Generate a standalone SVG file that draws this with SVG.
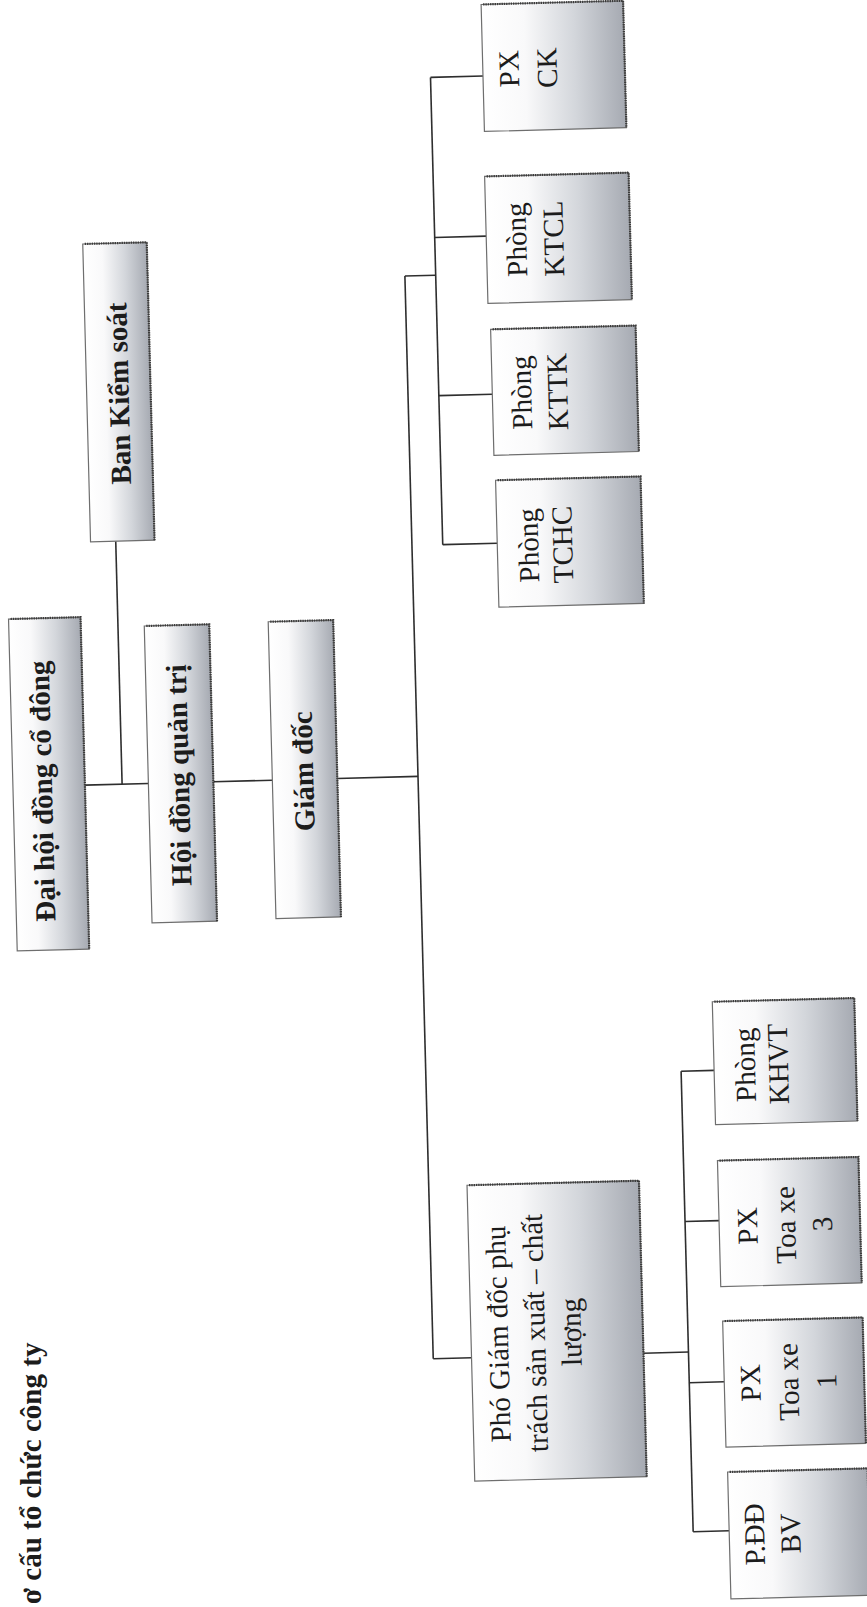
<svg xmlns="http://www.w3.org/2000/svg" width="867" height="1607" viewBox="0 0 867 1607">
<defs>
<linearGradient id="fillG" x1="0" y1="0" x2="1" y2="0">
<stop offset="0" stop-color="#ffffff"/>
<stop offset="0.3" stop-color="#f9f9fa"/>
<stop offset="0.65" stop-color="#d3d6db"/>
<stop offset="1" stop-color="#a6aab2"/>
</linearGradient>
<style>
.box{fill:url(#fillG);stroke:#6e6e6e;stroke-width:1.2}
.edge{fill:none;stroke:#3a3a3a;stroke-width:2.2;stroke-dasharray:1.4 0.9}
.ln{fill:none;stroke:#2e2e2e;stroke-width:1.6}
.n{font-family:"Liberation Serif","Times New Roman",serif;font-size:29px;fill:#1c1c1c;text-anchor:middle}
.b{font-family:"Liberation Serif","Times New Roman",serif;font-size:29px;font-weight:bold;fill:#1c1c1c;text-anchor:middle}
.title{font-family:"Liberation Serif","Times New Roman",serif;font-size:29px;font-weight:bold;fill:#1c1c1c}
</style>
</defs>
<rect x="0" y="0" width="867" height="1607" fill="#ffffff"/>
<text class="title" transform="translate(0,1604) rotate(-90)"><tspan x="0" y="41">ơ cấu tổ chức công ty</tspan></text>
<g transform="rotate(-1.5 433 803)">
<g id="connectors">
<path class="ln" d="M85.5,776 H149 M214,776 H273 M338,776 H418.7"/>
<path class="ln" d="M122.7,533 V776"/>
<path class="ln" d="M418.7,275.5 V1358.5"/>
<path class="ln" d="M418.7,275.5 H449.5"/>
<path class="ln" d="M449.5,77.6 V545"/>
<path class="ln" d="M449.5,77.6 H502 M449.5,237.7 H501 M449.5,395.9 H503 M449.5,545 H504"/>
<path class="ln" d="M418.7,1358.5 H457"/>
<path class="ln" d="M629,1358.5 H674"/>
<path class="ln" d="M674,1077.6 V1538.3"/>
<path class="ln" d="M674,1077.6 H707 M674,1228 H708 M674,1389.2 H709 M674,1538.3 H710"/>
</g>
<g id="dai-hoi-dong-co-dong">
<rect class="box" x="13.5" y="608" width="72" height="332"/>
<path class="edge" d="M15.5,608 H85.5 V940"/>
<text class="b" transform="translate(0,781) rotate(-90)"><tspan x="0" y="52.5">Đại hội đồng cổ đông</tspan></text>
</g>
<g id="ban-kiem-soat">
<rect class="box" x="97.5" y="235" width="64" height="298"/>
<path class="edge" d="M99.5,235 H161.5 V533"/>
<text class="b" transform="translate(0,385.5) rotate(-90)"><tspan x="0" y="139.5">Ban Kiểm soát</tspan></text>
</g>
<g id="hoi-dong-quan-tri">
<rect class="box" x="149" y="618.5" width="65" height="297"/>
<path class="edge" d="M151,618.5 H214 V915.5"/>
<text class="b" transform="translate(0,768.5) rotate(-90)"><tspan x="0" y="189.5">Hội đồng quản trị</tspan></text>
</g>
<g id="giam-doc">
<rect class="box" x="273" y="617.5" width="65" height="297"/>
<path class="edge" d="M275,617.5 H338 V914.5"/>
<text class="b" transform="translate(0,768) rotate(-90)"><tspan x="0" y="314">Giám đốc</tspan></text>
</g>
<g id="pho-giam-doc">
<rect class="box" x="457" y="1186" width="172" height="296"/>
<path class="edge" d="M459,1186 H629 V1482"/>
<text class="n" transform="translate(0,1335.5) rotate(-90)"><tspan x="0" y="494">Phó Giám đốc phụ</tspan><tspan x="0" y="531">trách sản xuất – chất</tspan><tspan x="0" y="567">lượng</tspan></text>
</g>
<g id="px-ck">
<rect class="box" x="502" y="6" width="142" height="127"/>
<path class="edge" d="M504,6 H644 V133"/>
<text class="n" transform="translate(0,71) rotate(-90)"><tspan x="0" y="538">PX</tspan><tspan x="0" y="576">CK</tspan></text>
</g>
<g id="phong-ktcl">
<rect class="box" x="501" y="178" width="144" height="127"/>
<path class="edge" d="M503,178 H645 V305"/>
<text class="n" transform="translate(0,242) rotate(-90)"><tspan x="0" y="541">Phòng</tspan><tspan x="0" y="578">KTCL</tspan></text>
</g>
<g id="phong-kttk">
<rect class="box" x="503" y="331" width="145" height="126"/>
<path class="edge" d="M505,331 H648 V457"/>
<text class="n" transform="translate(0,395) rotate(-90)"><tspan x="0" y="542">Phòng</tspan><tspan x="0" y="578">KTTK</tspan></text>
</g>
<g id="phong-tchc">
<rect class="box" x="504" y="482" width="145" height="127"/>
<path class="edge" d="M506,482 H649 V609"/>
<text class="n" transform="translate(0,548) rotate(-90)"><tspan x="0" y="545">Phòng</tspan><tspan x="0" y="579">TCHC</tspan></text>
</g>
<g id="phong-khvt">
<rect class="box" x="707" y="1009" width="142" height="123"/>
<path class="edge" d="M709,1009 H849 V1132"/>
<text class="n" transform="translate(0,1073) rotate(-90)"><tspan x="0" y="748">Phòng</tspan><tspan x="0" y="781">KHVT</tspan></text>
</g>
<g id="px-toa-xe-3">
<rect class="box" x="708" y="1168" width="141" height="126"/>
<path class="edge" d="M710,1168 H849 V1294"/>
<text class="n" transform="translate(0,1234) rotate(-90)"><tspan x="0" y="746">PX</tspan><tspan x="0" y="784">Toa xe</tspan><tspan x="0" y="821">3</tspan></text>
</g>
<g id="px-toa-xe-1">
<rect class="box" x="709" y="1328.5" width="140" height="126"/>
<path class="edge" d="M711,1328.5 H849 V1454.5"/>
<text class="n" transform="translate(0,1391) rotate(-90)"><tspan x="0" y="745">PX</tspan><tspan x="0" y="783">Toa xe</tspan><tspan x="0" y="821">1</tspan></text>
</g>
<g id="p-dd-bv">
<rect class="box" x="710" y="1479.5" width="140" height="127"/>
<path class="edge" d="M712,1479.5 H850 V1606.5"/>
<text class="n" transform="translate(0,1542.5) rotate(-90)"><tspan x="0" y="745">P.ĐĐ</tspan><tspan x="0" y="781">BV</tspan></text>
</g>
</g>
</svg>
